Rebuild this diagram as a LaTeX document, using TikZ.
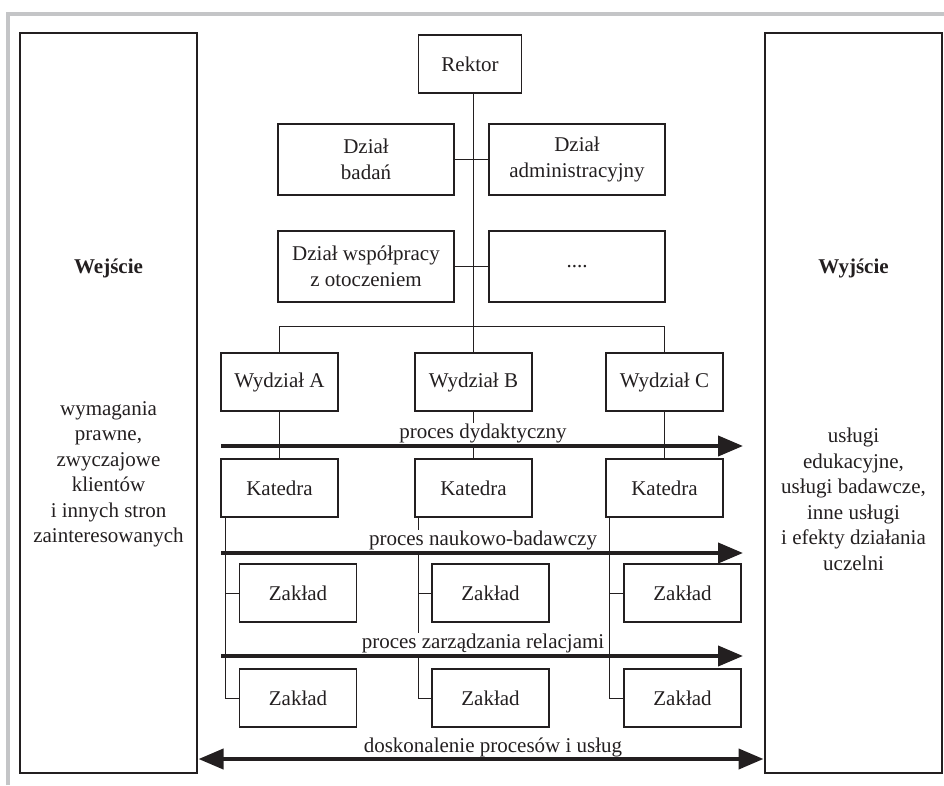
\documentclass[tikz,border=0pt]{standalone}
\usepackage{fontspec}
\setmainfont{Liberation Serif}
\usetikzlibrary{arrows.meta}
\definecolor{ink}{HTML}{231F20}
\definecolor{frame}{HTML}{C4C5C7}
\tikzset{
  box/.style={draw=ink, line width=1.1pt, minimum width=117pt, minimum height=58pt, inner sep=0pt, align=center, text=ink},
  dzbox/.style={box, minimum width=176pt, minimum height=71pt},
  bigbox/.style={draw=ink, line width=2pt, minimum width=177pt, minimum height=740pt, inner sep=0pt},
  conn/.style={draw=ink, line width=0.9pt},
  proc/.style={draw=ink, line width=4pt, -{Triangle[length=25pt,width=20pt]}},
  biproc/.style={draw=ink, line width=4pt, {Triangle[length=25pt,width=20pt]}-{Triangle[length=25pt,width=20pt]}},
  lbl/.style={fill=white, inner sep=1pt, anchor=base, text=ink},
  txt/.style={align=center, text=ink, inner sep=0pt}
}
\begin{document}
\begin{tikzpicture}[x=1pt, y=-1pt, font=\fontsize{21}{25.5}\selectfont]
\useasboundingbox (0,0) rectangle (944,785);
% gray frame
\draw[frame, line width=4pt, line join=miter] (8,785) -- (8,14) -- (944,14);

% big boxes
\node[bigbox] (in) at (108.5,403) {};
\node[bigbox] (out) at (853.5,403) {};
\node[txt, font=\fontsize{21}{25.5}\selectfont\bfseries] (inh) at (108.5,268) {Wejście};
\node[txt, font=\fontsize{21}{25.5}\selectfont\bfseries] (outh) at (853.5,268) {Wyjście};
\node[txt] (intxt) at (108.5,474.5) {wymagania\\prawne,\\zwyczajowe\\klientów\\i innych stron\\zainteresowanych};
\node[txt] (outtxt) at (853.5,499.5) {usługi\\edukacyjne,\\usługi badawcze,\\inne usługi\\i efekty działania\\uczelni};

% org boxes
\node[box, minimum width=103pt] (rektor) at (470,64) {Rektor};
\node[dzbox] (dB) at (366,159.5) {Dział\\badań};
\node[dzbox] (dA) at (577,159.5) {Dział\\administracyjny};
\node[dzbox] (dW) at (366,266.5) {Dział współpracy\\z otoczeniem};
\node[dzbox] (dD) at (577,266.5) {....};

\node[box] (wA) at (279.5,382) {Wydział A};
\node[box] (wB) at (473.5,382) {Wydział B};
\node[box] (wC) at (664.5,382) {Wydział C};

\node[box] (kA) at (279.5,488) {Katedra};
\node[box] (kB) at (473.5,488) {Katedra};
\node[box] (kC) at (664.5,488) {Katedra};

\node[box] (zA1) at (298,593) {Zakład};
\node[box] (zB1) at (490.5,593) {Zakład};
\node[box] (zC1) at (682.5,593) {Zakład};
\node[box] (zA2) at (298,698) {Zakład};
\node[box] (zB2) at (490.5,698) {Zakład};
\node[box] (zC2) at (682.5,698) {Zakład};

% connectors
\draw[conn] (wB.north |- rektor.south) -- (wB.north);
\draw[conn] (wA.north) -- ++(0,-26) -| (wC.north);
\draw[conn] (dB.east) -- (dA.west);
\draw[conn] (dW.east) -- (dD.west);
\draw[conn] (wA.south) -- (kA.north);
\draw[conn] (wB.south) -- (kB.north);
\draw[conn] (wC.south) -- (kC.north);
\draw[conn] ([xshift=4.5pt]kA.south west) |- (zA2.west);
\draw[conn] ([xshift=4.5pt]kA.south west) |- (zA1.west);
\draw[conn] ([xshift=4pt]kB.south west) |- (zB2.west);
\draw[conn] ([xshift=4pt]kB.south west) |- (zB1.west);
\draw[conn] ([xshift=4pt]kC.south west) |- (zC2.west);
\draw[conn] ([xshift=4pt]kC.south west) |- (zC1.west);

% process labels
\node[lbl] (l1) at (483,438.5) {proces dydaktyczny};
\node[lbl] (l2) at (483,545.5) {proces naukowo-badawczy};
\node[lbl] (l3) at (483,648.5) {proces zarządzania relacjami};
\node[lbl] (l4) at (493,752) {doskonalenie procesów i usług};

% process arrows
\coordinate (a1s) at (221,446); \coordinate (a1e) at (743,446);
\coordinate (a2s) at (221,553); \coordinate (a2e) at (743,553);
\coordinate (a3s) at (221,656); \coordinate (a3e) at (743,656);
\coordinate (a4s) at (198.5,759); \coordinate (a4e) at (763.5,759);
\draw[proc] (a1s) -- (a1e);
\draw[proc] (a2s) -- (a2e);
\draw[proc] (a3s) -- (a3e);
\draw[biproc] (a4s) -- (a4e);
\end{tikzpicture}
\end{document}
